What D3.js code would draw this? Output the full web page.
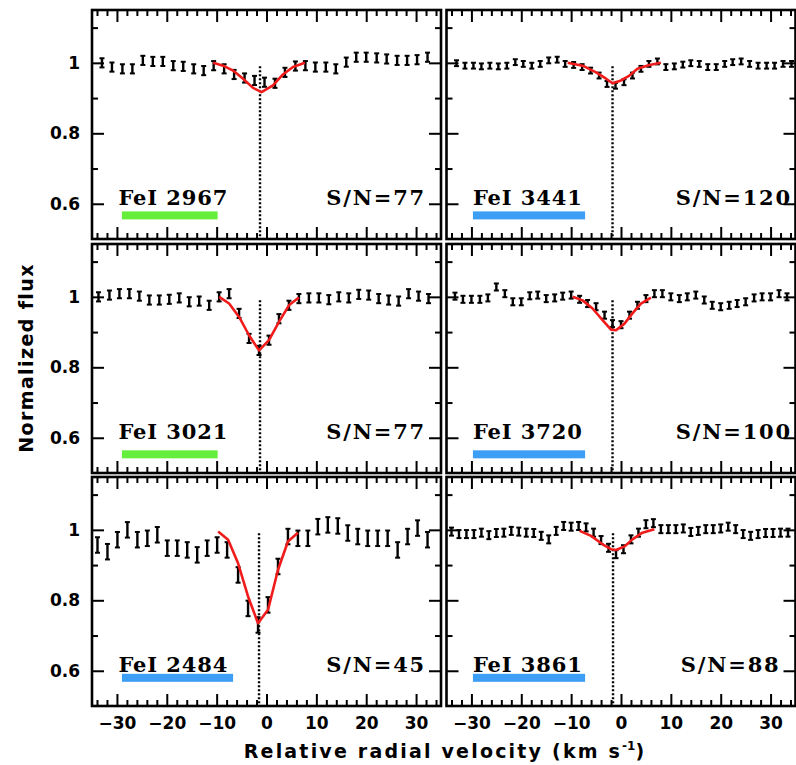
<!DOCTYPE html>
<html>
<head>
<meta charset="utf-8">
<title>FeI line profiles</title>
<script src="https://cdn.jsdelivr.net/npm/d3@7"></script>
<style>
body{margin:0;background:#fff;}
svg{display:block;}
.tk line{stroke:#000;stroke-width:2;}
.tk path{display:none;}
.lab path,.lab line{display:none;}
.lab text{font-family:"DejaVu Sans";font-weight:bold;font-size:17px;fill:#000;}
.ptxt{font-family:"DejaVu Serif";font-weight:bold;font-size:21px;fill:#000;}
.name{letter-spacing:0.9px;}
.sn{letter-spacing:1.8px;}
.atitle{font-family:"DejaVu Sans";font-weight:bold;font-size:19px;fill:#000;}
</style>
</head>
<body>
<div id="chart"></div>
<script>
// ---- data ----
var lineLabels = ["FeI 2967","FeI 3441","FeI 3021","FeI 3720","FeI 2484","FeI 3861"];
var snr = [77,120,77,100,45,88];
var fluxErr = [0.013,0.0083,0.013,0.010,0.022,0.0114];
var lineCenter = [-1.3,-1.7,-1.3,-1.7,-1.5,-1.6];

var vel2967 = [-33.0,-31.0,-28.9,-26.9,-24.8,-22.8,-20.8,-18.7,-16.7,-14.6,-12.6,-10.6,-8.5,-6.5,-4.4,-2.4,-0.4,1.7,3.7,5.8,7.8,9.8,11.9,13.9,16.0,18.0,20.0,22.1,24.1,26.2,28.2,30.2,32.3];
var flux2967 = [1.000,0.988,0.983,0.983,1.007,1.004,1.004,0.992,0.990,0.983,0.978,0.992,0.983,0.967,0.957,0.950,0.945,0.942,0.973,0.991,0.992,0.988,0.988,0.983,1.002,1.016,1.016,1.014,1.011,1.007,1.007,1.009,1.016];
var fitVel2967 = [-10.7,-8.7,-6.7,-4.7,-2.7,-1.0,1.3,3.3,5.3,7.7];
var fitFlux2967 = [1.000,0.992,0.978,0.955,0.929,0.917,0.936,0.967,0.988,1.000];

var vel3441 = [-33.0,-31.3,-29.6,-28.0,-26.3,-24.6,-22.9,-21.2,-19.6,-17.9,-16.2,-14.5,-12.8,-11.2,-9.5,-7.8,-6.1,-4.4,-2.8,-1.1,0.6,2.3,4.0,5.6,7.3,9.0,10.7,12.4,14.0,15.7,17.4,19.1,20.8,22.4,24.1,25.8,27.5,29.2,30.8,32.5,34.2];
var flux3441 = [0.999,0.992,0.992,0.990,0.992,0.990,0.992,1.002,0.997,0.992,0.997,1.007,1.009,0.997,0.994,0.988,0.978,0.964,0.940,0.935,0.945,0.964,0.983,0.997,1.004,0.988,0.990,0.995,0.999,0.997,0.988,0.988,0.997,1.002,1.004,0.997,0.992,0.992,0.992,0.997,0.997];
var fitVel3441 = [-10.7,-7.7,-5.0,-3.0,-1.7,0.0,1.7,3.3,5.7,8.0];
var fitFlux3441 = [1.000,0.992,0.973,0.955,0.942,0.950,0.964,0.983,0.994,1.000];

var vel3021 = [-33.7,-31.5,-29.5,-27.5,-25.5,-23.5,-21.5,-19.5,-17.5,-15.5,-13.5,-11.5,-9.5,-7.5,-5.5,-3.5,-1.5,0.5,2.5,4.5,6.5,8.5,10.5,12.5,14.5,16.5,18.5,20.5,22.5,24.5,26.5,28.5,30.5,32.5];
var flux3021 = [1.000,1.005,1.009,1.009,1.002,0.991,0.991,0.993,0.997,0.986,0.988,0.976,1.000,1.009,0.953,0.882,0.848,0.877,0.938,0.976,0.995,0.997,0.997,0.992,1.000,0.997,1.007,1.005,0.995,0.991,0.988,1.009,1.002,0.995];
var fitVel3021 = [-9.5,-7.5,-5.5,-3.5,-1.5,0.5,2.5,4.5,6.5];
var fitFlux3021 = [1.000,0.981,0.943,0.891,0.848,0.877,0.929,0.976,0.998];

var vel3720 = [-33.3,-31.7,-30.0,-28.3,-26.7,-25.0,-23.3,-21.7,-20.0,-18.3,-16.7,-15.0,-13.3,-11.7,-10.0,-8.3,-6.7,-5.0,-3.3,-1.7,0.0,1.7,3.3,5.0,6.7,8.3,10.0,11.7,13.3,15.0,16.7,18.3,20.0,21.7,23.3,25.0,26.7,28.3,30.0,31.7,33.3];
var flux3720 = [1.002,0.993,0.993,0.993,0.997,1.028,1.009,0.986,0.986,1.003,1.005,0.995,0.997,1.002,1.005,0.993,0.981,0.972,0.948,0.924,0.921,0.948,0.976,0.995,1.009,1.009,1.000,0.995,1.000,1.005,0.991,0.976,0.972,0.976,0.981,0.986,0.997,1.000,1.000,1.009,1.000];
var fitVel3720 = [-9.7,-7.7,-5.7,-3.7,-2.0,-1.0,0.7,2.3,4.0,6.0];
var fitFlux3720 = [1.000,0.990,0.967,0.934,0.907,0.905,0.924,0.953,0.981,0.998];

var vel2484 = [-33.9,-31.9,-29.9,-27.9,-25.9,-23.9,-21.9,-19.9,-17.9,-15.9,-13.9,-11.9,-9.9,-7.9,-5.7,-3.7,-1.7,0.3,2.3,4.3,6.3,8.3,10.3,12.3,14.3,16.3,18.3,20.3,22.3,24.3,26.3,28.3,30.3,32.3];
var flux2484 = [0.957,0.938,0.972,1.000,0.972,0.976,0.986,0.948,0.948,0.943,0.929,0.948,0.957,0.943,0.872,0.777,0.730,0.787,0.896,0.981,0.976,0.976,1.009,1.014,1.011,0.991,0.981,0.976,0.976,0.976,0.943,0.981,1.005,0.972];
var fitVel2484 = [-9.7,-7.7,-5.7,-3.7,-1.7,0.3,2.3,4.3,6.3];
var fitFlux2484 = [0.995,0.972,0.905,0.811,0.735,0.773,0.886,0.967,0.992];

var vel3861 = [-34.0,-32.5,-31.0,-29.5,-28.0,-26.5,-25.0,-23.5,-22.0,-20.5,-19.0,-17.5,-16.0,-14.5,-13.0,-11.5,-10.0,-8.5,-7.0,-5.5,-4.0,-2.5,-1.0,0.5,2.0,3.5,5.0,6.5,8.0,9.5,11.0,12.5,14.0,15.5,17.0,18.5,20.0,21.5,23.0,24.5,26.0,27.5,29.0,30.5,32.0,33.5];
var flux3861 = [0.995,0.988,0.988,0.988,0.992,0.985,0.991,0.992,0.997,0.995,0.992,0.991,0.983,0.973,0.997,1.011,1.009,1.011,1.007,0.992,0.971,0.949,0.931,0.945,0.973,0.992,1.016,1.019,1.002,1.002,1.002,1.004,0.994,0.997,1.002,1.002,1.004,1.009,1.002,0.988,0.983,0.988,0.991,0.991,0.992,0.992];
var fitVel3861 = [-8.3,-6.0,-3.7,-2.0,-1.0,0.7,2.3,4.3,6.7];
var fitFlux3861 = [0.997,0.983,0.959,0.945,0.943,0.953,0.973,0.992,1.002];

var xTickValues = [-30,-20,-10,0,10,20,30];
var yTickValues = [0.6,0.8,1];

// ---- layout / style ----
var W = 796, H = 765;
var colX = [92, 446.5], rowY = [10, 244, 477];
var pw = 349, ph = 229;
var barColor = ["#66ee3c","#3d9ef5","#66ee3c","#3d9ef5","#3d9ef5","#3d9ef5"];
var barSpan = [[-29,-9.8],[-29.7,-7.2],[-29,-9.8],[-29.7,-7.2],[-29,-6.7],[-29.7,-7.2]];
var barLevel = [0.567,0.567,0.553,0.553,0.580,0.580];
var snAt = [12,11,12,11,12,12];

var vels = [vel2967,vel3441,vel3021,vel3720,vel2484,vel3861];
var fluxes = [flux2967,flux3441,flux3021,flux3720,flux2484,flux3861];
var fitVels = [fitVel2967,fitVel3441,fitVel3021,fitVel3720,fitVel2484,fitVel3861];
var fitFluxes = [fitFlux2967,fitFlux3441,fitFlux3021,fitFlux3720,fitFlux2484,fitFlux3861];

var svg = d3.select("#chart").append("svg")
	.attr("width", W)
	.attr("height", H);

var x = d3.scaleLinear().domain([-35,35]).range([0,pw]);
var y = d3.scaleLinear().domain([0.5,1.15]).range([ph,0]);

var xMinor = d3.range(-34,35,2).filter(function(d){ return d % 10 !== 0; });
var yMinor = [0.7,0.9,1.1];

var fitLine = d3.line()
	.x(function(d){ return x(d[0]); })
	.y(function(d){ return y(d[1]); });

lineLabels.forEach(function(name,i){
	var col = i % 2, row = Math.floor(i/2);
	var g = svg.append("g").attr("transform","translate("+colX[col]+","+rowY[row]+")");

	// ticks on all four sides, pointing inward
	function ticks(axis, vals, len, tr){
		g.append("g").attr("class","tk").attr("transform",tr)
			.call(axis.tickValues(vals).tickSizeInner(-len).tickSizeOuter(0).tickFormat(""));
	}
	ticks(d3.axisBottom(x), xTickValues, 12, "translate(0,"+ph+")");
	ticks(d3.axisBottom(x), xMinor, 6, "translate(0,"+ph+")");
	ticks(d3.axisTop(x), xTickValues, 12, "translate(0,0)");
	ticks(d3.axisTop(x), xMinor, 6, "translate(0,0)");
	ticks(d3.axisLeft(y), yTickValues, 12, "translate(0,0)");
	ticks(d3.axisLeft(y), yMinor, 6, "translate(0,0)");
	ticks(d3.axisRight(y), yTickValues, 12, "translate("+pw+",0)");
	ticks(d3.axisRight(y), yMinor, 6, "translate("+pw+",0)");

	// tick labels only on outer panels
	if(row === 2){
		g.append("g").attr("class","lab").attr("transform","translate(0,"+ph+")")
			.call(d3.axisBottom(x).tickValues(xTickValues).tickSize(0).tickPadding(11));
	}
	if(col === 0){
		g.append("g").attr("class","lab")
			.call(d3.axisLeft(y).tickValues(yTickValues).tickSize(0).tickPadding(12).tickFormat(d3.format("~g")));
	}

	// line centre
	g.append("line")
		.attr("x1", x(lineCenter[i])).attr("x2", x(lineCenter[i]))
		.attr("y1", y(0.99)).attr("y2", y(0.5))
		.attr("stroke","#000").attr("stroke-width",2.4)
		.attr("stroke-dasharray","2,2");

	// error bars
	var pts = vels[i].map(function(v,k){ return [v, fluxes[i][k]]; });
	var e = fluxErr[i];
	var eb = g.append("g").attr("stroke","#000");
	eb.selectAll("line.bar").data(pts).enter().append("line")
		.attr("class","bar")
		.attr("x1",function(d){ return x(d[0]); })
		.attr("x2",function(d){ return x(d[0]); })
		.attr("y1",function(d){ return y(d[1]-e); })
		.attr("y2",function(d){ return y(d[1]+e); })
		.attr("stroke-width",2.4);
	[-1,1].forEach(function(s){
		eb.selectAll("line.cap"+s).data(pts).enter().append("line")
			.attr("class","cap"+s)
			.attr("x1",function(d){ return x(d[0])-2.5; })
			.attr("x2",function(d){ return x(d[0])+2.5; })
			.attr("y1",function(d){ return y(d[1]+s*e); })
			.attr("y2",function(d){ return y(d[1]+s*e); })
			.attr("stroke-width",2);
	});

	// fitted profile
	var fit = fitVels[i].map(function(v,k){ return [v, fitFluxes[i][k]]; });
	g.append("path")
		.attr("d", fitLine(fit))
		.attr("fill","none")
		.attr("stroke","#f01c1c")
		.attr("stroke-width",2.6)
		.attr("stroke-linejoin","round");

	// labels
	g.append("text").attr("class","ptxt name")
		.attr("x", x(-29.7)).attr("y", y(0.597))
		.text(name);
	g.append("text").attr("class","ptxt sn")
		.attr("x", x(snAt[i])).attr("y", y(0.597))
		.text("S/N=" + snr[i]);
	g.append("rect")
		.attr("x", x(barSpan[i][0]))
		.attr("width", x(barSpan[i][1]) - x(barSpan[i][0]))
		.attr("y", y(barLevel[i]) - 4)
		.attr("height", 8)
		.attr("fill", barColor[i]);

	// frame
	g.append("rect")
		.attr("width",pw).attr("height",ph)
		.attr("fill","none").attr("stroke","#000").attr("stroke-width",2.6);
});

// axis titles
svg.append("text").attr("class","atitle")
	.attr("transform","translate(33,"+((rowY[0]+rowY[2]+ph)/2)+") rotate(-90)")
	.attr("text-anchor","middle")
	.attr("letter-spacing","1.4px")
	.text("Normalized flux");

var xt = svg.append("text").attr("class","atitle")
	.attr("x", 445).attr("y", 758)
	.attr("text-anchor","middle")
	.attr("letter-spacing","2.2px");
xt.append("tspan").text("Relative radial velocity (km s");
xt.append("tspan").attr("dy",-8).attr("font-size","12px").attr("letter-spacing","0px").text("-1");
xt.append("tspan").attr("dy",8).text(")");
</script>
</body>
</html>
